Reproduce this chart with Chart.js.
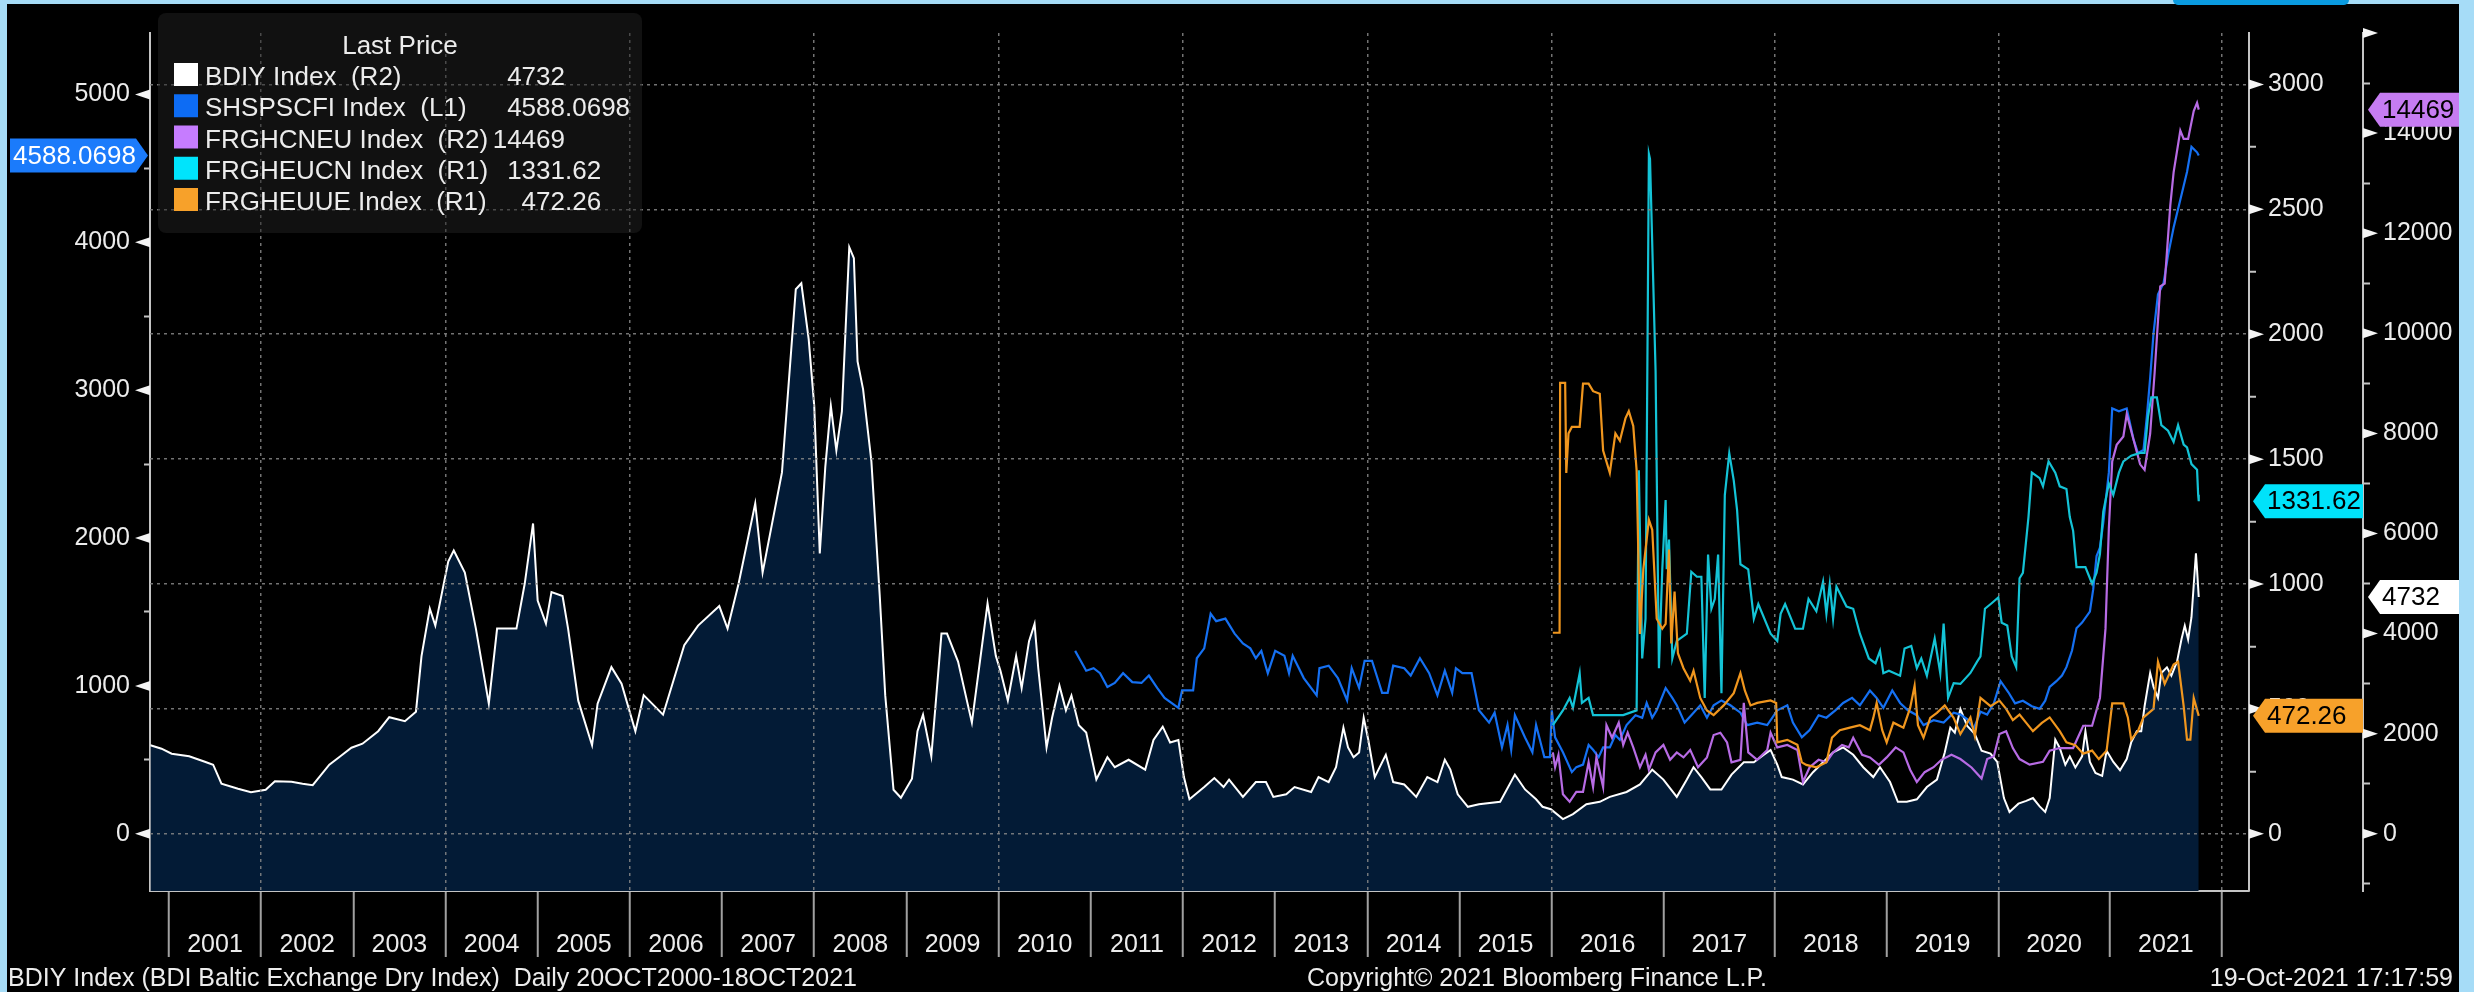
<!DOCTYPE html>
<html>
<head>
<meta charset="utf-8">
<title>BDIY vs container freight indices</title>
<script src="https://cdn.jsdelivr.net/npm/chart.js@4.4.1/dist/chart.umd.min.js"></script>
<style>
  html, body { margin: 0; padding: 0; }
  body { width: 2474px; height: 992px; background: #a6dcf7; position: relative; overflow: hidden; }
  #frame { position: absolute; left: 7px; top: 4px; width: 2452px; height: 988px; background: #000; }
  #tab { position: absolute; left: 2173px; top: 0; width: 176px; height: 5px; background: #0a9be0; border-radius: 0 0 14px 14px; }
  canvas { display: block; }
</style>
</head>
<body>
<div id="frame"><canvas id="chart" width="2452" height="988"></canvas></div>
<div id="tab"></div>
<script>
// ---- data (dates are decimal years) ----
const bdiyDates = [2000.80, 2000.92, 2001.03, 2001.22, 2001.39, 2001.48, 2001.57, 2001.75, 2001.89, 2002.05, 2002.15, 2002.33, 2002.45, 2002.56, 2002.74, 2002.86, 2002.98, 2003.10, 2003.27, 2003.39, 2003.56, 2003.68, 2003.74, 2003.83, 2003.89, 2004.03, 2004.09, 2004.21, 2004.33, 2004.47, 2004.56, 2004.77, 2004.86, 2004.95, 2005.00, 2005.09, 2005.15, 2005.27, 2005.33, 2005.44, 2005.59, 2005.65, 2005.80, 2005.91, 2006.06, 2006.15, 2006.36, 2006.59, 2006.74, 2006.97, 2007.06, 2007.18, 2007.36, 2007.44, 2007.65, 2007.80, 2007.86, 2007.94, 2008.00, 2008.06, 2008.12, 2008.18, 2008.24, 2008.30, 2008.38, 2008.43, 2008.47, 2008.53, 2008.62, 2008.71, 2008.77, 2008.86, 2008.94, 2009.06, 2009.12, 2009.18, 2009.27, 2009.38, 2009.44, 2009.56, 2009.71, 2009.88, 2009.97,
  2010.02, 2010.10, 2010.19, 2010.25, 2010.33, 2010.39, 2010.43, 2010.52, 2010.58, 2010.66, 2010.73, 2010.79, 2010.87, 2010.95, 2011.06, 2011.18, 2011.26, 2011.41, 2011.59, 2011.68, 2011.78, 2011.86, 2011.95, 2012.01, 2012.07, 2012.23, 2012.34, 2012.44, 2012.50, 2012.65, 2012.79, 2012.90, 2012.98, 2013.12, 2013.21, 2013.39, 2013.47, 2013.58, 2013.66, 2013.74, 2013.79, 2013.85, 2013.91, 2013.96, 2014.01, 2014.08, 2014.20, 2014.28, 2014.40, 2014.53, 2014.65, 2014.76, 2014.84, 2014.90, 2014.98, 2015.09, 2015.21, 2015.44, 2015.60, 2015.71, 2015.83,
  2015.90, 2015.99, 2016.10, 2016.19, 2016.31, 2016.43, 2016.52, 2016.67, 2016.79, 2016.90, 2017.00, 2017.12, 2017.21, 2017.27, 2017.34, 2017.42, 2017.52, 2017.61, 2017.72, 2017.81, 2017.90, 2017.96, 2018.02, 2018.06, 2018.16, 2018.25, 2018.34, 2018.43, 2018.52, 2018.61, 2018.70, 2018.79, 2018.88, 2018.94, 2019.03, 2019.10, 2019.18, 2019.27, 2019.36, 2019.45, 2019.52, 2019.57, 2019.61,
  2019.66, 2019.72, 2019.79, 2019.85, 2019.93, 2019.99, 2020.05, 2020.10, 2020.18, 2020.25, 2020.31, 2020.37, 2020.42, 2020.46, 2020.51, 2020.55, 2020.60, 2020.64, 2020.69, 2020.75, 2020.78, 2020.82, 2020.87, 2020.93, 2020.97, 2021.03, 2021.09, 2021.15, 2021.19, 2021.24, 2021.28, 2021.31, 2021.36, 2021.39, 2021.43, 2021.46, 2021.51, 2021.55, 2021.60, 2021.64, 2021.67, 2021.70, 2021.73, 2021.77, 2021.78, 2021.795];
const bdiyValues = [1770, 1700, 1600, 1550, 1440, 1380, 1000, 900, 830, 880, 1050, 1040, 1000, 970, 1380, 1550, 1720, 1800, 2050, 2330, 2250, 2440, 3550, 4500, 4160, 5440, 5660, 5220, 4100, 2600, 4100, 4100, 5000, 6200, 4660, 4200, 4830, 4750, 4100, 2660, 1770, 2600, 3330, 3000, 2050, 2770, 2380, 3770, 4160, 4550, 4100, 5000, 6600, 5220, 7220, 10880, 11000, 9880, 8550, 5600, 7330, 8550, 7660, 8440, 11720, 11500, 9440, 8880, 7440, 4770, 2770, 880, 720, 1100, 2050, 2380, 1550, 4000, 4000, 3440, 2220, 4600, 3550,
  3256, 2664, 3553, 2912, 3849, 4195, 3307, 1725, 2319, 2960, 2467, 2763, 2170, 2023, 1084, 1529, 1330, 1479, 1282, 1874, 2141, 1824, 1874, 1133, 689, 935, 1113, 935, 1084, 738, 1034, 1034, 738, 788, 935, 836, 1133, 1034, 1330, 2122, 1725, 1529, 1626, 2319, 1874, 1133, 1578, 1034, 985, 738, 1133, 1034, 1479, 1282, 788, 540, 589, 639, 1183, 886, 689,
  540, 491, 294, 393, 590, 639, 738, 836, 985, 1281, 1083, 738, 1083, 1330, 1133, 886, 886, 1182, 1429, 1429, 1578, 1676, 1380, 1133, 1083, 985, 1231, 1429, 1626, 1726, 1578, 1330, 1133, 1330, 1034, 639, 639, 689, 935, 1083, 1626, 2120, 2020,
  2492, 2159, 1992, 1659, 1603, 1436, 714, 436, 602, 658, 714, 547, 436, 714, 1882, 1715, 1380, 1548, 1325, 1548, 2048, 1436, 1214, 1158, 1659, 1436, 1270, 1492, 1826, 2048, 2048, 2548, 3214, 2936, 2714, 3214, 3325, 3158, 3436, 3882, 4159, 3882, 4327, 5605, 5272, 4732];

const scfiDates = [2010.83, 2010.95, 2011.03, 2011.10, 2011.18, 2011.26, 2011.35, 2011.45, 2011.55, 2011.63, 2011.72, 2011.80, 2011.95, 2011.99, 2012.11, 2012.15, 2012.23, 2012.30, 2012.36, 2012.46, 2012.56, 2012.65, 2012.73, 2012.79, 2012.85, 2012.92, 2013.00, 2013.10, 2013.15, 2013.19, 2013.31, 2013.45, 2013.48, 2013.58, 2013.68, 2013.78, 2013.83, 2013.91, 2013.97, 2014.05, 2014.16, 2014.22, 2014.28, 2014.40, 2014.47, 2014.57, 2014.67, 2014.76, 2014.84, 2014.92, 2014.96, 2015.03, 2015.13, 2015.21, 2015.32, 2015.38, 2015.46, 2015.52, 2015.56, 2015.60, 2015.71, 2015.79, 2015.83, 2015.92, 2015.98,
  2016.00, 2016.03, 2016.10, 2016.18, 2016.22, 2016.28, 2016.33, 2016.37, 2016.42, 2016.46, 2016.52, 2016.57, 2016.61, 2016.67, 2016.75, 2016.81, 2016.85, 2016.90, 2016.94, 2017.02, 2017.08, 2017.12, 2017.19, 2017.25, 2017.33, 2017.39, 2017.45, 2017.52, 2017.60, 2017.69, 2017.75, 2017.84, 2017.93, 2018.02, 2018.11, 2018.16, 2018.24, 2018.31, 2018.39, 2018.46, 2018.54, 2018.61, 2018.69, 2018.76, 2018.85, 2018.91, 2018.97, 2019.05, 2019.12, 2019.19, 2019.27, 2019.33, 2019.42, 2019.51, 2019.60,
  2019.66, 2019.72, 2019.78, 2019.84, 2019.90, 2019.96, 2020.02, 2020.09, 2020.15, 2020.22, 2020.30, 2020.37, 2020.42, 2020.46, 2020.52, 2020.57, 2020.61, 2020.66, 2020.70, 2020.75, 2020.82, 2020.85, 2020.88, 2020.91, 2020.94, 2020.99, 2021.02, 2021.08, 2021.15, 2021.21, 2021.25, 2021.30, 2021.33, 2021.36, 2021.39, 2021.43, 2021.48, 2021.52, 2021.57, 2021.63, 2021.69, 2021.73, 2021.78, 2021.795];
const scfiValues = [1237, 1103, 1120, 1086, 993, 1020, 1086, 1026, 1020, 1070, 987, 919, 852, 970, 970, 1187, 1254, 1488, 1438, 1455, 1354, 1287, 1254, 1187, 1237, 1086, 1237, 1204, 1086, 1204, 1053, 936, 1120, 1137, 1053, 903, 1120, 987, 1170, 1170, 953, 953, 1137, 1120, 1070, 1187, 1086, 936, 1103, 953, 1120, 1086, 1086, 835, 752, 819, 584, 736, 568, 802, 651, 551, 736, 518, 518,
  835, 652, 551, 417, 451, 468, 601, 568, 518, 584, 584, 668, 635, 735, 802, 785, 885, 785, 835, 986, 919, 869, 752, 802, 869, 785, 869, 902, 869, 819, 735, 752, 735, 835, 869, 752, 652, 702, 802, 785, 835, 885, 919, 869, 969, 919, 852, 969, 885, 835, 802, 735, 768, 752, 819,
  806, 776, 712, 825, 806, 882, 1032, 957, 882, 900, 863, 845, 900, 994, 1032, 1070, 1127, 1239, 1390, 1428, 1503, 1654, 1879, 1935, 2105, 2444, 2877, 2858, 2877, 2670, 2576, 2595, 2820, 3084, 3385, 3648, 3724, 3912, 4100, 4288, 4476, 4646, 4609, 4588.0698];

const cneuDates = [2016.01, 2016.03, 2016.06, 2016.10, 2016.16, 2016.22, 2016.28, 2016.33, 2016.37, 2016.40, 2016.46, 2016.49, 2016.54, 2016.60, 2016.64, 2016.68, 2016.73, 2016.79, 2016.84, 2016.87, 2016.93, 2017.00, 2017.06, 2017.12, 2017.18, 2017.24, 2017.31, 2017.39, 2017.45, 2017.51, 2017.57, 2017.61, 2017.69, 2017.72, 2017.76, 2017.84, 2017.93, 2017.96, 2018.02, 2018.11, 2018.20, 2018.25, 2018.31, 2018.39, 2018.46, 2018.52, 2018.60, 2018.66, 2018.70, 2018.78, 2018.85, 2018.93, 2019.00, 2019.08, 2019.15, 2019.21, 2019.27, 2019.34, 2019.42, 2019.49, 2019.58,
  2019.66, 2019.76, 2019.85, 2019.90, 2019.96, 2020.01, 2020.07, 2020.13, 2020.19, 2020.28, 2020.40, 2020.46, 2020.55, 2020.67, 2020.76, 2020.84, 2020.91, 2020.96, 2020.99, 2021.02, 2021.06, 2021.12, 2021.15, 2021.21, 2021.27, 2021.31, 2021.36, 2021.40, 2021.45, 2021.49, 2021.54, 2021.57, 2021.63, 2021.66, 2021.70, 2021.75, 2021.78, 2021.795];
const cneuValues = [1626, 1330, 1578, 788, 639, 836, 836, 1429, 936, 1527, 935, 2170, 1920, 2220, 1775, 2020, 1726, 1330, 1578, 1281, 1626, 1775, 1478, 1626, 1527, 1676, 1330, 1527, 1974, 2020, 1825, 1429, 1478, 2616, 1626, 1478, 1676, 2020, 1726, 1775, 1676, 1034, 1330, 1478, 1429, 1626, 1775, 1726, 1920, 1578, 1527, 1380, 1527, 1726, 1626, 1281, 1034, 1231, 1330, 1478, 1578,
  1493, 1325, 1103, 1493, 1550, 1992, 2048, 1713, 1493, 1381, 1437, 1660, 1713, 1713, 2159, 2159, 2714, 4104, 6104, 7438, 7771, 7938, 8383, 7882, 7382, 7271, 7993, 9217, 10938, 10993, 12551, 13217, 14051, 13884, 13884, 14441, 14607, 14469];

const eucnDates = [2016.01, 2016.10, 2016.16, 2016.19, 2016.25, 2016.27, 2016.33, 2016.37, 2016.49, 2016.64, 2016.76, 2016.78, 2016.81, 2016.84, 2016.87, 2016.88, 2016.93, 2016.96, 2016.99, 2017.02, 2017.03, 2017.05, 2017.08, 2017.12, 2017.21, 2017.25, 2017.30, 2017.34, 2017.37, 2017.40, 2017.43, 2017.46, 2017.49, 2017.52, 2017.55, 2017.59, 2017.63, 2017.66, 2017.69, 2017.76, 2017.81, 2017.85, 2017.96, 2018.02, 2018.05, 2018.09, 2018.18, 2018.25, 2018.30, 2018.37, 2018.43, 2018.46, 2018.49, 2018.52, 2018.55, 2018.64, 2018.70, 2018.76, 2018.84, 2018.90, 2018.94, 2018.97, 2019.02, 2019.12, 2019.16, 2019.22, 2019.27, 2019.31, 2019.36, 2019.43, 2019.48, 2019.51, 2019.55, 2019.60,
  2019.66, 2019.75, 2019.81, 2019.84, 2019.88, 2019.94, 2020.00, 2020.03, 2020.08, 2020.12, 2020.16, 2020.19, 2020.22, 2020.27, 2020.30, 2020.37, 2020.40, 2020.45, 2020.51, 2020.55, 2020.61, 2020.64, 2020.67, 2020.70, 2020.78, 2020.84, 2020.88, 2020.91, 2020.94, 2020.99, 2021.03, 2021.08, 2021.12, 2021.19, 2021.27, 2021.31, 2021.34, 2021.37, 2021.42, 2021.46, 2021.52, 2021.57, 2021.61, 2021.66, 2021.69, 2021.73, 2021.78, 2021.79, 2021.795];
const eucnValues = [435, 494, 544, 505, 643, 524, 544, 475, 475, 475, 494, 1455, 702, 861, 2722, 2702, 1851, 663, 1059, 1336, 1059, 1178, 702, 772, 801, 1049, 1029, 1029, 544, 1118, 901, 940, 1118, 563, 1356, 1524, 1415, 1296, 1079, 1059, 861, 920, 801, 772, 881, 920, 821, 821, 940, 891, 1009, 881, 999, 861, 990, 910, 901, 801, 702, 683, 732, 643, 653, 633, 742, 752, 663, 702, 633, 782, 643, 842, 544, 603,
  600, 644, 689, 710, 901, 923, 946, 845, 834, 710, 667, 1023, 1045, 1268, 1446, 1424, 1391, 1491, 1446, 1391, 1380, 1268, 1213, 1068, 1068, 1001, 1045, 1120, 1290, 1402, 1357, 1446, 1491, 1514, 1525, 1525, 1669, 1747, 1747, 1636, 1614, 1569, 1636, 1558, 1547, 1480, 1458, 1357, 1331.62];

const euueDates = [2016.01, 2016.07, 2016.075, 2016.12, 2016.13, 2016.15, 2016.18, 2016.25, 2016.28, 2016.33, 2016.37, 2016.43, 2016.46, 2016.52, 2016.57, 2016.61, 2016.66, 2016.69, 2016.73, 2016.76, 2016.79, 2016.82, 2016.87, 2016.90, 2016.94, 2016.99, 2017.02, 2017.05, 2017.07, 2017.10, 2017.13, 2017.18, 2017.24, 2017.27, 2017.33, 2017.39, 2017.45, 2017.54, 2017.63, 2017.69, 2017.73, 2017.78, 2017.84, 2017.96, 2018.01, 2018.02, 2018.11, 2018.20, 2018.24, 2018.28, 2018.37, 2018.46, 2018.51, 2018.58, 2018.67, 2018.76, 2018.85, 2018.88, 2018.91, 2018.96, 2019.00, 2019.06, 2019.15, 2019.21, 2019.25, 2019.28, 2019.33, 2019.39, 2019.45, 2019.52, 2019.60,
  2019.66, 2019.75, 2019.79, 2019.84, 2019.93, 2020.01, 2020.07, 2020.13, 2020.19, 2020.25, 2020.31, 2020.39, 2020.46, 2020.55, 2020.61, 2020.69, 2020.76, 2020.84, 2020.90, 2020.97, 2021.02, 2021.12, 2021.16, 2021.19, 2021.25, 2021.30, 2021.33, 2021.39, 2021.43, 2021.46, 2021.49, 2021.57, 2021.61, 2021.66, 2021.69, 2021.72, 2021.75, 2021.795];
const euueValues = [805, 805, 1805, 1805, 1445, 1603, 1629, 1629, 1802, 1802, 1772, 1762, 1534, 1445, 1603, 1574, 1663, 1692, 1633, 1455, 800, 1059, 1257, 1217, 861, 821, 840, 1138, 762, 970, 723, 663, 613, 653, 544, 494, 475, 514, 563, 643, 573, 514, 524, 534, 524, 366, 376, 356, 286, 276, 266, 286, 385, 415, 425, 435, 415, 464, 524, 415, 366, 445, 425, 504, 593, 435, 385, 464, 484, 514, 464,
  399, 466, 391, 544, 511, 533, 500, 455, 477, 444, 411, 444, 466, 411, 366, 355, 321, 333, 299, 333, 522, 522, 466, 377, 411, 466, 477, 500, 689, 644, 600, 678, 689, 511, 377, 377, 544, 472.26];

const yearTicks = [2001, 2002, 2003, 2004, 2005, 2006, 2007, 2008, 2009, 2010, 2011, 2012, 2013, 2014, 2015, 2016, 2017, 2018, 2019, 2020, 2021, 2022];
const l1Ticks = [0, 500, 1000, 1500, 2000, 2500, 3000, 3500, 4000, 4500, 5000];
const r1Ticks = [0, 250, 500, 750, 1000, 1250, 1500, 1750, 2000, 2250, 2500, 2750, 3000];
const r2Ticks = [-1000, 0, 1000, 2000, 3000, 4000, 5000, 6000, 7000, 8000, 9000, 10000, 11000, 12000, 13000, 14000, 15000, 16000];

// Bloomberg spreads the years after 2016 wider (more observation dates per year)
const WARP_YEAR = 2016;
const WARP = 1.211;
const pos = t => t <= WARP_YEAR ? t : WARP_YEAR + (t - WARP_YEAR) * WARP;

const FONT = '"Liberation Sans", Arial, sans-serif';
const GRID = 'rgba(135,135,135,0.85)';
const AXIS = '#c4c4c4';
const TEXT = '#ececec';

const series = [
  { name: 'BDIY Index  (R2)', dates: bdiyDates, values: bdiyValues, axis: 'yR2', line: '#ffffff', swatch: '#ffffff', tag: '#ffffff', tagText: '#000' },
  { name: 'SHSPSCFI Index  (L1)', dates: scfiDates, values: scfiValues, axis: 'yL', line: '#1570f2', swatch: '#0d6cf4', tag: '#1b7bfb', tagText: '#fff' },
  { name: 'FRGHCNEU Index  (R2)', dates: cneuDates, values: cneuValues, axis: 'yR2', line: '#b76be4', swatch: '#c67cff', tag: '#c67cf2', tagText: '#000' },
  { name: 'FRGHEUCN Index  (R1)', dates: eucnDates, values: eucnValues, axis: 'yR1', line: '#14c3d6', swatch: '#00e4fc', tag: '#00e2fa', tagText: '#000' },
  { name: 'FRGHEUUE Index  (R1)', dates: euueDates, values: euueValues, axis: 'yR1', line: '#f0961e', swatch: '#f7a12a', tag: '#f7a12a', tagText: '#000' }
];

const datasets = series.map((s, i) => ({
  label: s.name,
  data: s.dates.map((d, k) => ({ x: pos(d), y: s.values[k] })),
  yAxisID: s.axis,
  borderColor: s.line,
  borderWidth: i === 0 ? 2 : 2.2,
  pointRadius: 0,
  tension: 0,
  fill: i === 0 ? 'start' : false,
  backgroundColor: i === 0 ? '#031b36' : 'transparent',
  order: 5 - i
}));

const minorTick = (ticks, major) => ctx => {
  const v = ticks[ctx.index];
  return v % major === 0 ? 'rgba(0,0,0,0)' : AXIS;
};

function yScale(position, weight, min, max, ticks, major, width, tickLen, pad, hideLabel) {
  return {
    type: 'linear', position, weight, min, max,
    afterBuildTicks: s => { s.ticks = ticks.map(v => ({ value: v })); },
    afterFit: s => { s.width = width; },
    ticks: {
      autoSkip: false, padding: pad, color: TEXT,
      font: { family: FONT, size: 25 },
      callback: v => (v % major === 0 && v >= 0 && !(hideLabel && hideLabel(v))) ? String(v) : ''
    },
    grid: { drawOnChartArea: false, tickLength: tickLen, tickWidth: 2, tickColor: minorTick(ticks, major) },
    border: { color: AXIS, width: 2 }
  };
}

const decor = {
  id: 'decor',
  afterDraw(chart) {
    const { ctx, chartArea: ca, scales } = chart;
    const x = scales.x;
    ctx.save();

    // axis arrow markers on the major ticks
    ctx.fillStyle = '#f4f4f4';
    const arrows = [[scales.yL, l1Ticks, 1000, -1], [scales.yR1, r1Ticks, 500, 1], [scales.yR2, r2Ticks, 2000, 1]];
    arrows.forEach(([sc, ticks, major, dir]) => {
      const ax = dir < 0 ? sc.right : sc.left;
      ticks.filter(v => v % major === 0 && v >= 0).forEach(v => {
        const y = sc.getPixelForValue(v);
        ctx.beginPath();
        ctx.moveTo(ax, y - 5);
        ctx.lineTo(ax + dir * 15, y);
        ctx.lineTo(ax, y + 5);
        ctx.closePath();
        ctx.fill();
      });
    });

    // year labels between separators
    ctx.font = '25px ' + FONT;
    ctx.fillStyle = TEXT;
    ctx.textAlign = 'center';
    ctx.textBaseline = 'alphabetic';
    for (let i = 0; i < yearTicks.length - 1; i++) {
      const mid = (x.getPixelForValue(pos(yearTicks[i])) + x.getPixelForValue(pos(yearTicks[i + 1]))) / 2;
      ctx.fillText(String(yearTicks[i]), mid, 948);
    }

    // footer
    ctx.textAlign = 'left';
    ctx.fillText('BDIY Index (BDI Baltic Exchange Dry Index)  Daily 20OCT2000-18OCT2021', 1, 982);
    ctx.fillText('Copyright\u00A9 2021 Bloomberg Finance L.P.', 1300, 982);
    ctx.textAlign = 'right';
    ctx.fillText('19-Oct-2021 17:17:59', 2446, 982);

    // legend
    ctx.fillStyle = 'rgba(34,34,34,0.5)';
    ctx.beginPath();
    ctx.roundRect(151, 9, 484, 220, 8);
    ctx.fill();
    ctx.font = '26px ' + FONT;
    ctx.fillStyle = TEXT;
    ctx.textAlign = 'center';
    ctx.fillText('Last Price', 393, 50);
    series.forEach((s, i) => {
      const by = 81 + i * 31.25;
      ctx.fillStyle = s.swatch;
      ctx.fillRect(167, by - 22, 24, 23);
      ctx.fillStyle = TEXT;
      ctx.textAlign = 'left';
      ctx.fillText(s.name, 198, by);
      const [whole, frac] = String(s.values[s.values.length - 1]).split('.');
      ctx.textAlign = 'right';
      ctx.fillText(whole, 558, by);
      if (frac) { ctx.textAlign = 'left'; ctx.fillText('.' + frac, 558, by); }
    });

    // last-value tags on the axes
    const tag = (s, xl, xr, pointLeft, tx) => {
      const v = s.values[s.values.length - 1];
      const y = scales[s.axis].getPixelForValue(v);
      const h = 34, p = 12;
      ctx.beginPath();
      if (pointLeft) {
        ctx.moveTo(xl, y); ctx.lineTo(xl + p, y - h / 2); ctx.lineTo(xr, y - h / 2);
        ctx.lineTo(xr, y + h / 2); ctx.lineTo(xl + p, y + h / 2);
      } else {
        ctx.moveTo(xr, y); ctx.lineTo(xr - p, y - h / 2); ctx.lineTo(xl, y - h / 2);
        ctx.lineTo(xl, y + h / 2); ctx.lineTo(xr - p, y + h / 2);
      }
      ctx.closePath();
      ctx.fillStyle = s.tag;
      ctx.fill();
      ctx.fillStyle = s.tagText;
      ctx.textAlign = 'left';
      ctx.textBaseline = 'middle';
      ctx.fillText(String(v), tx, y + 1);
      ctx.textBaseline = 'alphabetic';
    };
    const r1 = scales.yR1, r2 = scales.yR2;
    tag(series[1], 3, scales.yL.right - 2, false, 6);
    tag(series[3], r1.left + 4, r2.left, true, r1.left + 18);
    tag(series[4], r1.left + 4, r2.left, true, r1.left + 18);
    tag(series[2], r2.left + 5, r2.right, true, r2.left + 19);
    tag(series[0], r2.left + 5, r2.right, true, r2.left + 19);
    ctx.restore();
  }
};

new Chart(document.getElementById('chart'), {
  type: 'line',
  data: { datasets },
  plugins: [decor],
  options: {
    responsive: false,
    animation: false,
    layout: { padding: { top: 2, left: 0, right: 0, bottom: 0 } },
    plugins: {
      legend: { display: false },
      tooltip: { enabled: false },
      filler: { drawTime: 'beforeDatasetsDraw' }
    },
    scales: {
      x: {
        type: 'linear', min: 2000.795, max: 2023.563,
        afterBuildTicks: s => { s.ticks = yearTicks.map(y => ({ value: pos(y) })); },
        afterFit: s => { s.height = 101; },
        ticks: { display: false },
        grid: {
          z: 1, lineWidth: 1.5,
          color: c => yearTicks[c.index] % 2 === 0 ? GRID : 'rgba(0,0,0,0)',
          tickLength: 66, tickWidth: 2, tickColor: '#a0a0a0'
        },
        border: { color: AXIS, width: 2, dash: [3, 4] }
      },
      yL: yScale('left', 0, -387, 5416, l1Ticks, 1000, 143, 6, 14),
      yR1: Object.assign(yScale('right', 0, -229, 3206, r1Ticks, 500, 114, 7, 12), {}),
      yR2: yScale('right', 1, -1143, 16000, r2Ticks, 2000, 96, 7, 13, v => v === 16000)
    }
  }
});

// horizontal grid follows the R1 axis
const chart = Chart.getChart('chart');
chart.options.scales.yR1.grid = {
  drawOnChartArea: true, z: 1, lineWidth: 1.5,
  color: c => r1Ticks[c.index] % 500 === 0 ? GRID : 'rgba(0,0,0,0)',
  tickLength: 7, tickWidth: 2, tickColor: minorTick(r1Ticks, 500)
};
chart.options.scales.yR1.border = { color: AXIS, width: 2, dash: [3, 4] };
chart.update();
</script>
</body>
</html>
